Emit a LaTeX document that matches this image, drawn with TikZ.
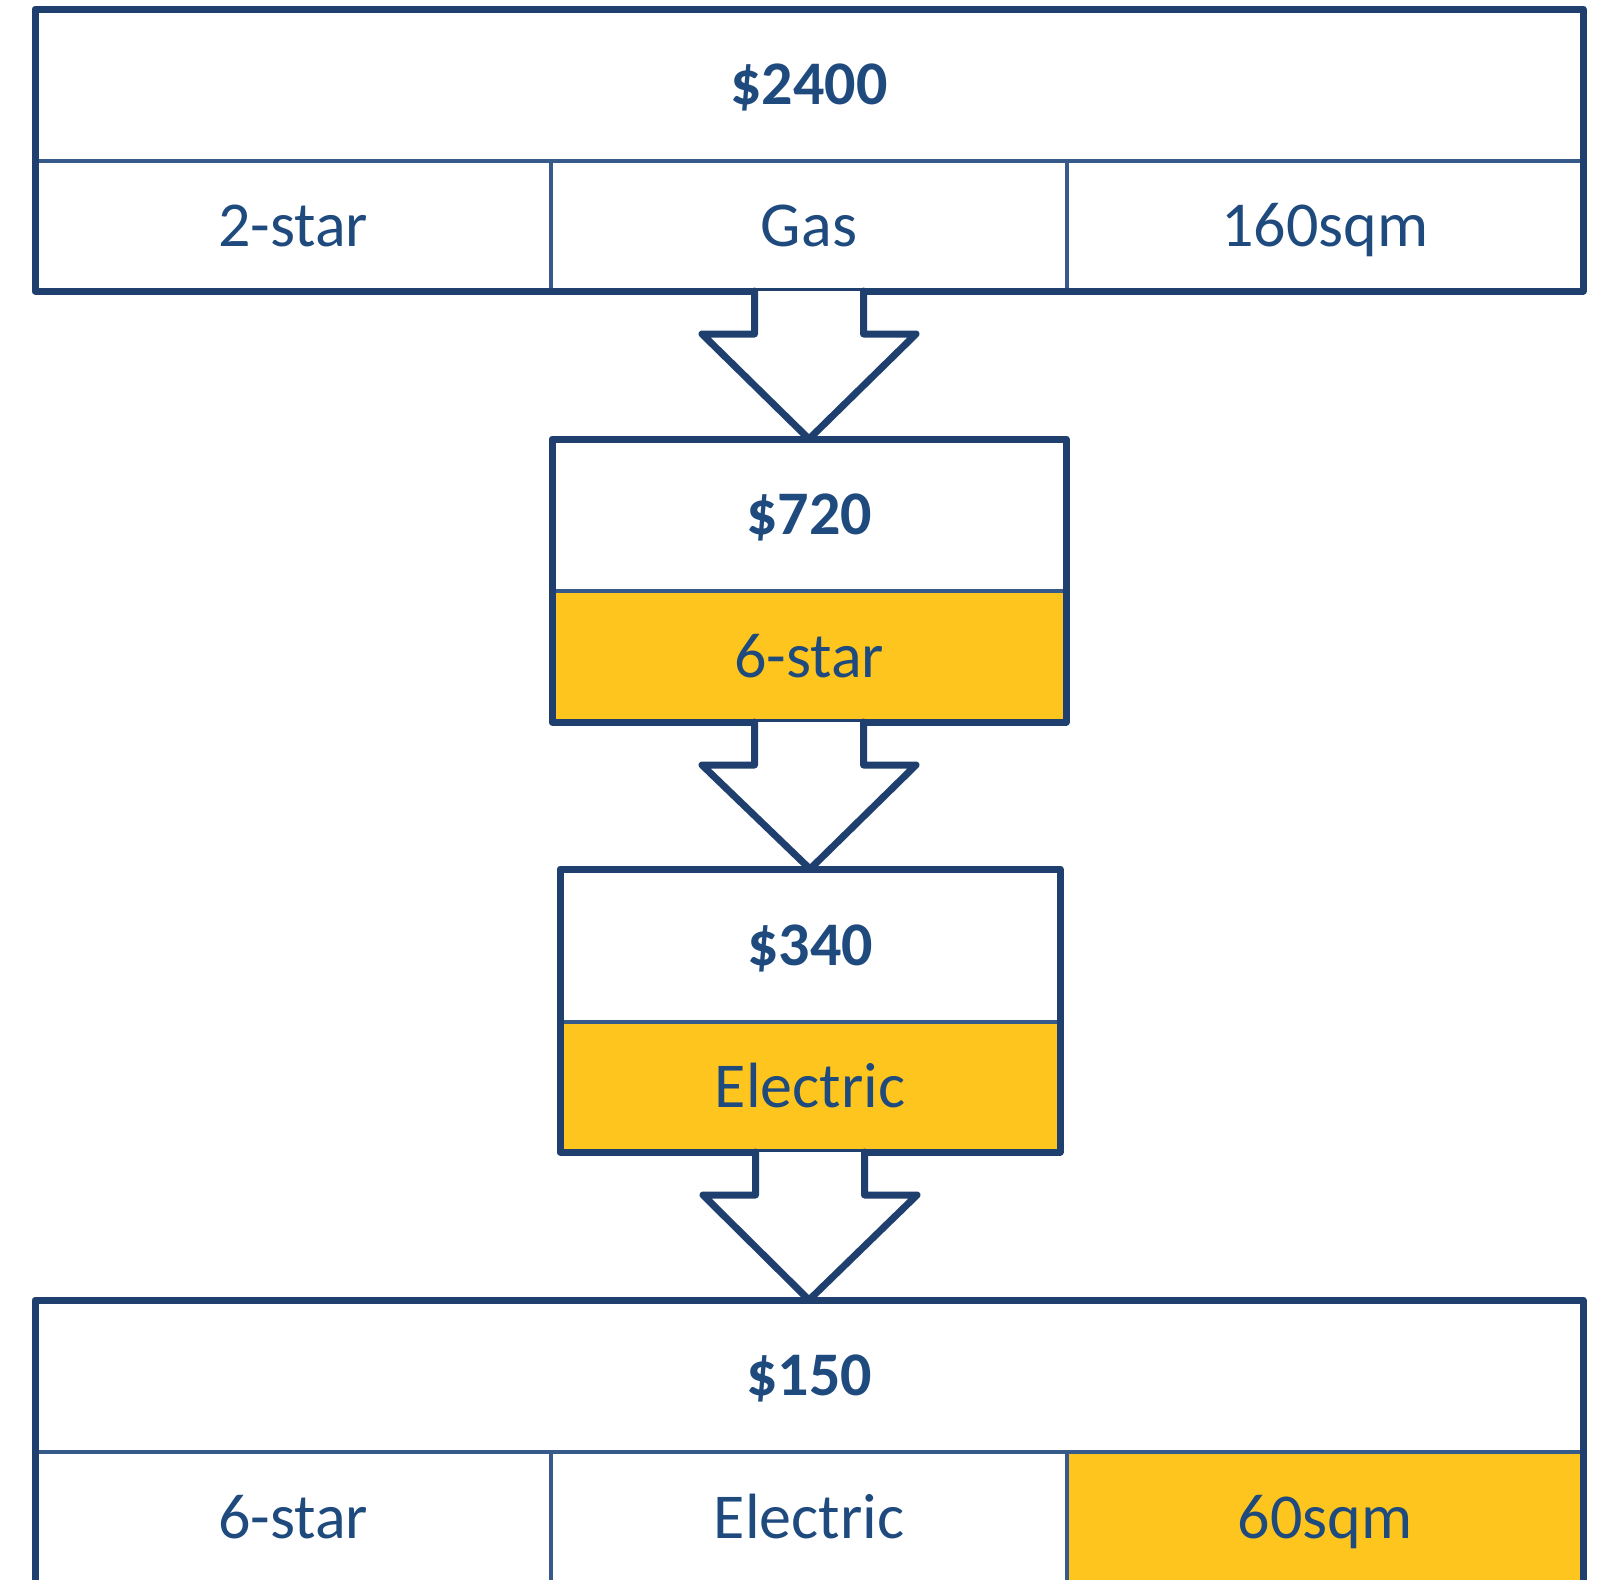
\documentclass[tikz,border=0pt]{standalone}
\usepackage{fontspec}
\setmainfont{Carlito}
\usetikzlibrary{calc,fit}
\definecolor{navy}{HTML}{1F3F6E}
\definecolor{txtblue}{HTML}{1F4A7E}
\definecolor{sepblue}{HTML}{365B8B}
\definecolor{gold}{HTML}{FEC51E}
\newcommand\blockarr[2]{%
  \fill[white] ($(#1)+(-54.5,0)$) -- ($(#1)+(-54.5,43)$) -- ($(#1)+(-107,43)$) -- (#2)
     -- ($(#1)+(107,43)$) -- ($(#1)+(54.5,43)$) -- ($(#1)+(54.5,0)$) -- cycle;
  \draw[arrowline] ($(#1)+(-54.5,0)$) -- ($(#1)+(-54.5,43)$) -- ($(#1)+(-107,43)$) -- (#2)
     -- ($(#1)+(107,43)$) -- ($(#1)+(54.5,43)$) -- ($(#1)+(54.5,0)$);}
\begin{document}
\begin{tikzpicture}[x=0.5pt,y=-0.5pt,
  cell/.style={rectangle, draw=sepblue, line width=2.25pt, inner sep=0pt, outer sep=0pt},
  celltext/.style={inner sep=0pt, text=txtblue, font=\fontsize{32}{38}\selectfont,
    text height=20.5pt, text depth=0pt},
  headtext/.style={celltext, font=\fontsize{31}{37}\selectfont\bfseries, text height=19.8pt},
  goldcell/.style={cell, fill=gold},
  outerbox/.style={rectangle, draw=navy, line width=3.5pt, line join=round, inner sep=0pt, outer sep=0pt},
  arrowline/.style={draw=navy, line width=3.5pt, line join=round, line cap=round}]
\useasboundingbox (0,0) rectangle (1598,1579);
\clip (0,0) rectangle (1598,1579);
\fill[white] (0,0) rectangle (1598,1579);

% box 1
\node[cell, fit={(35,9) (1583,161)}, label={[headtext]center:\$2400}] (b1h) {};
\node[cell, fit={(35,161) (551,291)}, label={[celltext]center:2-star}] (b1c1) {};
\node[cell, fit={(551,161) (1067,291)}, label={[celltext]center:Gas}] (b1c2) {};
\node[cell, fit={(1067,161) (1583,291)}, label={[celltext]center:160sqm}] (b1c3) {};
\node[outerbox, fit=(b1h)(b1c1)(b1c3)] (b1) {};

% box 2
\node[cell, fit={(552,439) (1066,591)}, label={[headtext]center:\$720}] (b2h) {};
\node[goldcell, fit={(552,591) (1066,722)}, label={[celltext]center:6-star}] (b2c1) {};
\node[outerbox, fit=(b2h)(b2c1)] (b2) {};

% box 3
\node[cell, fit={(560,869) (1060,1022)}, label={[headtext]center:\$340}] (b3h) {};
\node[goldcell, fit={(560,1022) (1060,1152)}, label={[celltext]center:Electric}] (b3c1) {};
\node[outerbox, fit=(b3h)(b3c1)] (b3) {};

% box 4
\node[cell, fit={(35,1300) (1583,1452)}, label={[headtext]center:\$150}] (b4h) {};
\node[cell, fit={(35,1452) (551,1584)}, label={[celltext]center:6-star}] (b4c1) {};
\node[cell, fit={(551,1452) (1067,1584)}, label={[celltext]center:Electric}] (b4c2) {};
\node[goldcell, fit={(1067,1452) (1583,1584)}, label={[celltext]center:60sqm}] (b4c3) {};
\node[outerbox, fit=(b4h)(b4c1)(b4c3)] (b4) {};

% arrows
\blockarr{b1.south}{b2.north}
\blockarr{b2.south}{b3.north}
\blockarr{b3.south}{b4.north}
\end{tikzpicture}
\end{document}
